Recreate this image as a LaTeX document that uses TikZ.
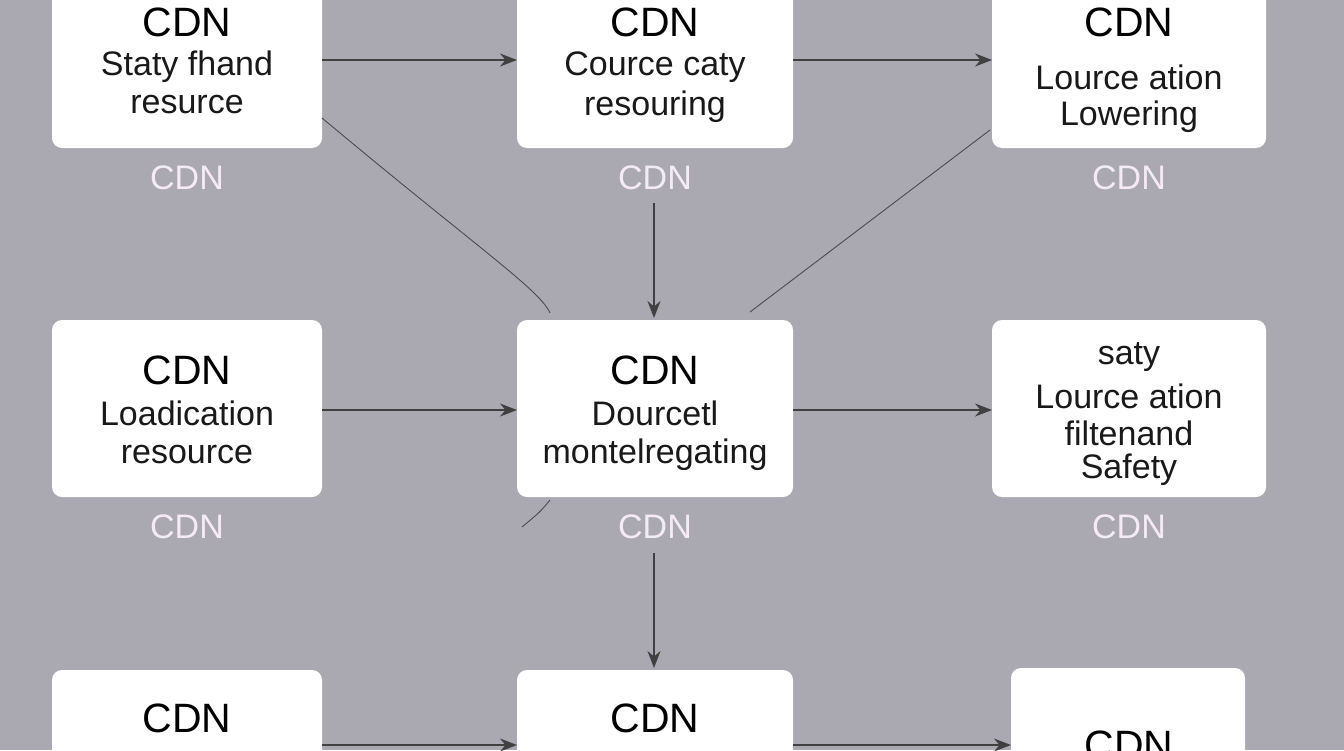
\documentclass[tikz,border=0pt]{standalone}
\usepackage{fontspec}
\setmainfont{Liberation Sans}
\usetikzlibrary{arrows.meta}
\begin{document}
\begin{tikzpicture}[x=1pt,y=-1pt,
 box/.style={fill=white,rounded corners=10pt,draw=none},
 t1/.style={font=\fontsize{41}{42}\selectfont,text=black},
 t2/.style={font=\fontsize{34}{38}\selectfont,text=black!90},
 captxt/.style={font=\fontsize{34}{36}\selectfont,text=white!92!violet},
 arr/.style={draw=black!75,line width=1.4pt,-{Stealth[length=17pt,width=13pt]}},
 ln/.style={draw=black!70,line width=0.9pt}]
\useasboundingbox (0,0) rectangle (1344,750);
\fill[fill={rgb,255:red,170;green,169;blue,177}] (0,0) rectangle (1344,750);
\begin{scope}
\clip (0,0) rectangle (1344,750);
\fill[box] (52,-20) rectangle (322,148);
\fill[box] (517,-20) rectangle (793,148);
\fill[box] (992,-20) rectangle (1266,148);
\fill[box] (52,320) rectangle (322,497);
\fill[box] (517,320) rectangle (793,497);
\fill[box] (992,320) rectangle (1266,497);
\fill[box] (52,670) rectangle (322,800);
\fill[box] (517,670) rectangle (793,800);
\fill[box] (1011,668) rectangle (1245,800);
\end{scope}
\node[t1] (a1) at (187,22) {CDN};
\node[t2] (a2) at (187,67) {Staty fhand};
\node[t2] (a3) at (187,105) {resurce};
\node[t1] (b1) at (655,22) {CDN};
\node[t2] (b2) at (655,67) {Cource caty};
\node[t2] (b3) at (655,107) {resouring};
\node[t1] (c1) at (1129,22) {CDN};
\node[t2] (c2) at (1129,77) {Lource ation};
\node[t2] (c3) at (1129,117) {Lowering};
\node[t1] (d1) at (187,370) {CDN};
\node[t2] (d2) at (187,413) {Loadication};
\node[t2] (d3) at (187,455) {resource};
\node[t1] (e1) at (655,370) {CDN};
\node[t2] (e2) at (655,413) {Dourcetl};
\node[t2] (e3) at (655,455) {montelregating};
\node[t2] (f1) at (1129,357) {saty};
\node[t2] (f2) at (1129,396) {Lource ation};
\node[t2] (f3) at (1129,433) {filtenand};
\node[t2] (f4) at (1129,470) {Safety};
\node[t1] (g1) at (187,718) {CDN};
\node[t1] (h1) at (655,718) {CDN};
\node[t1] (i1) at (1129,745) {CDN};
\node[captxt] (k1) at (187,178) {CDN};
\node[captxt] (k2) at (655,178) {CDN};
\node[captxt] (k3) at (1129,178) {CDN};
\node[captxt] (k4) at (187,527) {CDN};
\node[captxt] (k5) at (655,527) {CDN};
\node[captxt] (k6) at (1129,527) {CDN};
\coordinate (p1) at (322,60); \coordinate (p2) at (517,60);
\coordinate (p3) at (793,60); \coordinate (p4) at (992,60);
\coordinate (q1) at (322,410); \coordinate (q2) at (517,410);
\coordinate (q3) at (793,410); \coordinate (q4) at (992,410);
\coordinate (r1) at (322,745); \coordinate (r2) at (517,745);
\coordinate (r3) at (793,745); \coordinate (r4) at (1011,745);
\coordinate (v1) at (654,203); \coordinate (v2) at (654,318);
\coordinate (v3) at (654,553); \coordinate (v4) at (654,668);
\draw[arr] (p1) -- (p2); \draw[arr] (p3) -- (p4);
\draw[arr] (q1) -- (q2); \draw[arr] (q3) -- (q4);
\draw[arr] (r1) -- (r2); \draw[arr] (r3) -- (r4);
\draw[arr] (v1) -- (v2); \draw[arr] (v3) -- (v4);
\coordinate (d1s) at (322,118); \coordinate (d1e) at (550,313);
\coordinate (d2s) at (990,130); \coordinate (d2e) at (750,312);
\coordinate (d3s) at (550,500); \coordinate (d3e) at (522,527);
\draw[ln] (d1s) .. controls (480,250) and (540,290) .. (d1e);
\draw[ln] (d2s) -- (d2e);
\draw[ln] (d3s) .. controls (540,512) .. (d3e);
\end{tikzpicture}
\end{document}
